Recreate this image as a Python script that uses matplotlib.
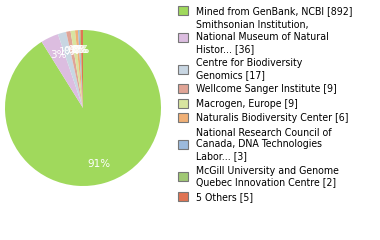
import matplotlib.pyplot as plt
import numpy as np

labels = [
    "Mined from GenBank, NCBI [892]",
    "Smithsonian Institution,\nNational Museum of Natural\nHistor... [36]",
    "Centre for Biodiversity\nGenomics [17]",
    "Wellcome Sanger Institute [9]",
    "Macrogen, Europe [9]",
    "Naturalis Biodiversity Center [6]",
    "National Research Council of\nCanada, DNA Technologies\nLabor... [3]",
    "McGill University and Genome\nQuebec Innovation Centre [2]",
    "5 Others [5]",
]
counts = [892, 36, 17, 9, 9, 6, 3, 2, 5]
colors = ["#a0d95c", "#dcbde0", "#c8d6e2", "#e0a496", "#d8e4a0",
          "#f0b076", "#9cbadc", "#a0c874", "#e07454"]

fig = plt.figure(figsize=(3.8, 2.4), dpi=100)
# pie box in pixels: x 5..161, y 30..186
ax = fig.add_axes([5 / 380, 54 / 240, 156 / 380, 156 / 240])

wedges, texts, autotexts = ax.pie(
    counts, colors=colors, startangle=90, counterclock=False,
    autopct=lambda p: "%d%%" % int(p), pctdistance=0.75,
    textprops=dict(color="white", fontsize=7.5),
    wedgeprops=dict(linewidth=0))
ax.set_xlim(-1, 1)
ax.set_ylim(-1, 1)
ax.set_aspect("equal")

leg = fig.legend(wedges, labels, loc="upper left", bbox_to_anchor=(172 / 380, 1.0),
                 frameon=False, prop=dict(family="DejaVu Sans", stretch="condensed", size=7.55),
                 handlelength=0.93, handleheight=0.93, handletextpad=0.85,
                 labelspacing=0.42, borderaxespad=0.15)
for t in leg.get_texts():
    t.set_linespacing(1.22)
for h in leg.legend_handles:
    h.set_edgecolor("#777777")
    h.set_linewidth(0.8)

fig.savefig("out.png", dpi=100)
